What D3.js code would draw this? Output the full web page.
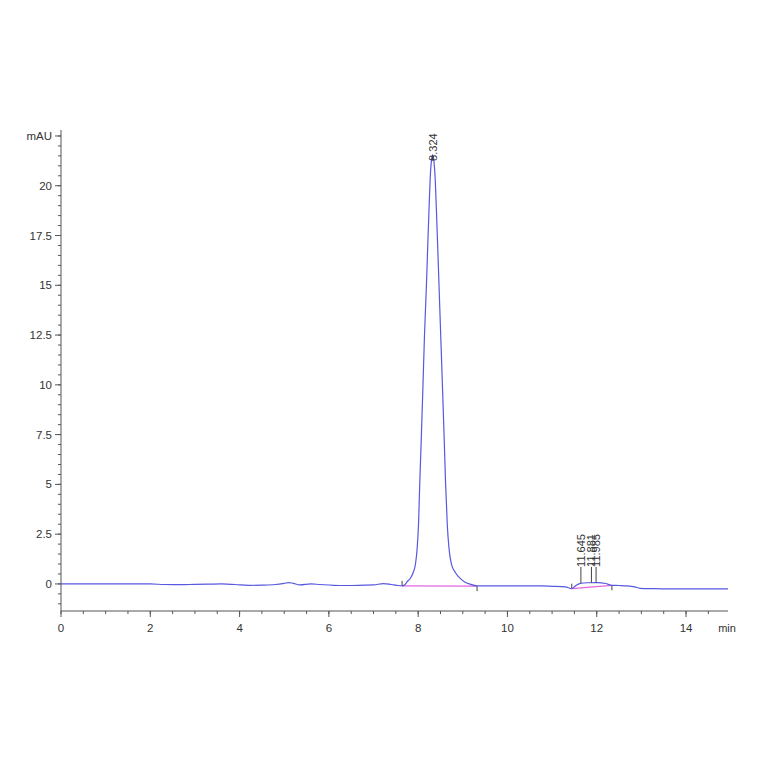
<!DOCTYPE html>
<html>
  <head>
    <meta charset="UTF-8">
    <title>Chromatogram</title>
    <script src="https://d3js.org/d3.v7.min.js"></script>
    <style>
      body { margin: 0; background: #fff; }
      text { font-family: "Liberation Sans Narrow", "Liberation Sans", Arial, sans-serif; fill: #333; }
    </style>
  </head>
  <body>
    <div id="chart"></div>
    <script>
      // signal trace (min, mAU)
      const times = [0, 0.5, 1, 1.5, 2, 2.3, 2.7, 3.0, 3.3, 3.6, 3.9, 4.2, 4.5, 4.8, 5.0, 5.1, 5.2, 5.35,
        5.6, 5.8, 6.1, 6.4, 6.8, 7.0, 7.22, 7.4, 7.52, 7.64, 7.70, 7.75, 7.83, 7.885, 7.94, 7.978,
        8.008, 8.035, 8.073, 8.108, 8.142, 8.185, 8.215, 8.246, 8.272, 8.300, 8.324, 8.349, 8.378,
        8.405, 8.437, 8.467, 8.505, 8.543, 8.580, 8.615, 8.652, 8.690, 8.745, 8.840, 8.930, 9.040,
        9.15, 9.32, 9.7, 10.06, 10.4, 10.73, 11.0, 11.3, 11.44, 11.52, 11.63, 11.8, 12.03, 12.2,
        12.34, 12.5, 12.68, 12.85, 12.97, 13.27, 13.7, 14.2, 14.94];
      const signal = [0, 0, 0, 0, 0, -0.03, -0.04, -0.02, -0.01, 0, -0.03, -0.07, -0.06, -0.03, 0.03,
        0.07, 0.03, -0.05, 0, -0.03, -0.07, -0.08, -0.06, -0.05, 0.02, -0.03, -0.07, -0.1, -0.04, 0.1,
        0.3, 0.55, 1.0, 1.8, 3.0, 5.0, 7.5, 10.0, 12.5, 15.0, 17.0, 19.0, 20.5, 21.3, 21.55, 21.3, 20.5,
        19.0, 17.0, 15.0, 12.5, 10.0, 7.5, 5.0, 3.0, 1.8, 1.0, 0.55, 0.3, 0.1, 0.0, -0.1, -0.1, -0.1,
        -0.1, -0.1, -0.12, -0.15, -0.24, -0.1, 0.03, 0.06, 0.07, 0.02, -0.07, -0.08, -0.1, -0.15, -0.22,
        -0.24, -0.25, -0.25, -0.25];

      // integrated peaks
      const peakTimes = [8.324, 11.645, 11.881, 11.985];
      const peakHeights = [21.55, 0.05, 0.06, 0.065];
      const peakLabels = ["8.324", "11.645", "11.881", "11.985"];

      // integration baselines: start/end time and level
      const baseStartT = [7.64, 11.44];
      const baseStartV = [-0.1, -0.24];
      const baseEndT = [9.32, 12.34];
      const baseEndV = [-0.11, -0.07];

      const xTicks = [0, 2, 4, 6, 8, 10, 12, 14];
      const yTicks = [0, 2.5, 5, 7.5, 10, 12.5, 15, 17.5, 20, 22.5];
      const yTickLabels = ["0", "2.5", "5", "7.5", "10", "12.5", "15", "17.5", "20", "mAU"];

      const width = 764, height = 764;
      const svg = d3.select("#chart").append("svg")
        .attr("width", width).attr("height", height);

      const x = d3.scaleLinear().domain([0, 14.94]).range([61, 728]);
      const y = d3.scaleLinear().domain([-1.36, 22.8]).range([611, 130]);

      const axisColor = "#555";

      // y axis
      const yAxis = svg.append("g").attr("transform", `translate(${x(0)},0)`);
      yAxis.append("line").attr("x1", 0).attr("x2", 0)
        .attr("y1", y.range()[0]).attr("y2", y.range()[1]).attr("stroke", axisColor);
      yAxis.selectAll(".minor").data(d3.range(-1, 22.6, 0.5))
        .enter().append("line")
        .attr("x1", -3).attr("x2", 0)
        .attr("y1", d => y(d)).attr("y2", d => y(d))
        .attr("stroke", axisColor);
      yAxis.selectAll(".major").data(yTicks)
        .enter().append("line")
        .attr("x1", -6).attr("x2", 0)
        .attr("y1", d => y(d)).attr("y2", d => y(d))
        .attr("stroke", axisColor);
      yAxis.selectAll(".lbl").data(yTicks)
        .enter().append("text")
        .attr("x", -9).attr("y", d => y(d)).attr("dy", "0.35em")
        .attr("text-anchor", "end").attr("font-size", 11.5)
        .text((d, i) => yTickLabels[i]);

      // x axis
      const xAxis = svg.append("g").attr("transform", `translate(0,${y.range()[0]})`);
      xAxis.append("line").attr("x1", x.range()[0]).attr("x2", x.range()[1])
        .attr("y1", 0).attr("y2", 0).attr("stroke", axisColor);
      xAxis.selectAll(".minor").data(d3.range(0, 14.95, 0.5))
        .enter().append("line")
        .attr("x1", d => x(d)).attr("x2", d => x(d))
        .attr("y1", 0).attr("y2", 3).attr("stroke", axisColor);
      xAxis.selectAll(".major").data(xTicks)
        .enter().append("line")
        .attr("x1", d => x(d)).attr("x2", d => x(d))
        .attr("y1", 0).attr("y2", 6).attr("stroke", axisColor);
      xAxis.selectAll(".lbl").data(xTicks)
        .enter().append("text")
        .attr("x", d => x(d)).attr("y", 21)
        .attr("text-anchor", "middle").attr("font-size", 11.5)
        .text(d => d);
      xAxis.append("text").attr("x", x.range()[1] - 1).attr("y", 21)
        .attr("text-anchor", "middle").attr("font-size", 11).text("min");

      // integration baselines
      svg.selectAll(".base").data(baseStartT)
        .enter().append("line")
        .attr("x1", d => x(d)).attr("y1", (d, i) => y(baseStartV[i]))
        .attr("x2", (d, i) => x(baseEndT[i])).attr("y2", (d, i) => y(baseEndV[i]))
        .attr("stroke", "#e466e0").attr("stroke-width", 1.2);
      svg.selectAll(".bstart").data(baseStartT)
        .enter().append("line")
        .attr("x1", d => x(d)).attr("x2", d => x(d))
        .attr("y1", (d, i) => y(baseStartV[i]) - 5).attr("y2", (d, i) => y(baseStartV[i]))
        .attr("stroke", "#444");
      svg.selectAll(".bend").data(baseEndT)
        .enter().append("line")
        .attr("x1", d => x(d)).attr("x2", d => x(d))
        .attr("y1", (d, i) => y(baseEndV[i])).attr("y2", (d, i) => y(baseEndV[i]) + 5)
        .attr("stroke", "#444");

      // signal
      const line = d3.line()
        .x(d => x(d[0])).y(d => y(d[1]))
        .curve(d3.curveMonotoneX);
      svg.append("path")
        .datum(times.map((t, i) => [t, signal[i]]))
        .attr("d", line)
        .attr("fill", "none")
        .attr("stroke", "#5858e0")
        .attr("stroke-width", 1.2);

      // peak markers and labels
      const labelY = v => Math.min(y(v) + 6, y(0) - 17);
      svg.selectAll(".ptick").data(peakTimes)
        .enter().append("line")
        .attr("x1", d => x(d)).attr("x2", d => x(d))
        .attr("y1", (d, i) => y(peakHeights[i]))
        .attr("y2", (d, i) => labelY(peakHeights[i]))
        .attr("stroke", "#444");
      svg.selectAll(".plabel").data(peakTimes)
        .enter().append("text")
        .attr("transform", (d, i) => `translate(${x(d) + 4},${labelY(peakHeights[i])}) rotate(-90)`)
        .attr("font-size", 11)
        .text((d, i) => peakLabels[i]);
    </script>
  </body>
</html>
